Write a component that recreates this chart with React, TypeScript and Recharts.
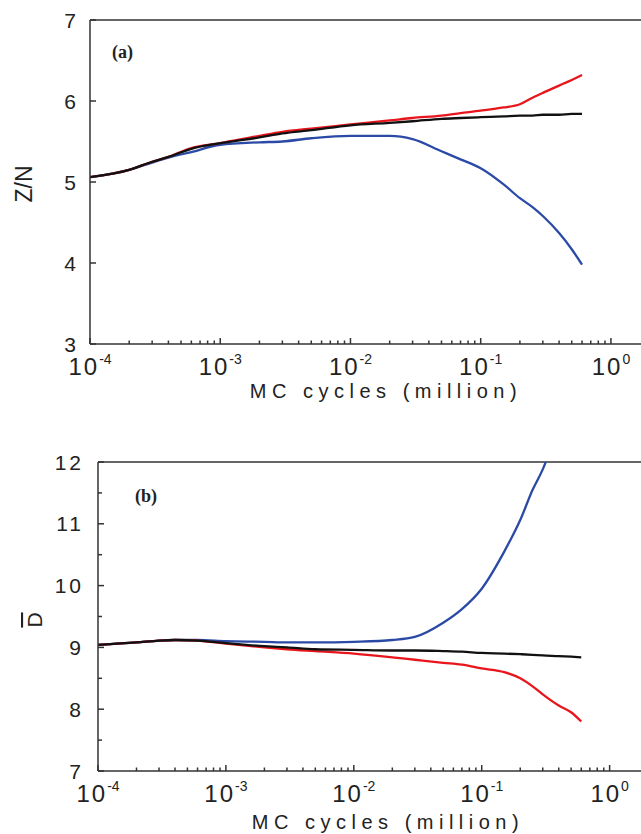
import { LineChart, Line, XAxis, YAxis, ReferenceLine } from "recharts";

// MC cycles (million)
const cycles = [
  1e-4, 2e-4, 3e-4, 4e-4, 6e-4, 1e-3, 2e-3, 3e-3, 5e-3, 1e-2, 2e-2, 3e-2,
  5e-2, 7e-2, 0.1, 0.15, 0.2, 0.25, 0.3, 0.4, 0.5, 0.6,
];

// panel (a) Z/N
const zBlack = [
  5.06, 5.15, 5.25, 5.31, 5.41, 5.48, 5.55, 5.6, 5.64, 5.7, 5.73, 5.75, 5.78,
  5.79, 5.8, 5.81, 5.82, 5.82, 5.83, 5.83, 5.84, 5.84,
];
const zRed = [
  5.06, 5.15, 5.25, 5.31, 5.42, 5.48, 5.57, 5.62, 5.66, 5.71, 5.76, 5.79, 5.82,
  5.85, 5.88, 5.92, 5.96, 6.04, 6.1, 6.19, 6.26, 6.32,
];
const zBlue = [
  5.06, 5.15, 5.24, 5.3, 5.37, 5.46, 5.49, 5.5, 5.54, 5.57, 5.57, 5.53, 5.38,
  5.28, 5.17, 4.97, 4.8, 4.69, 4.58, 4.37, 4.17, 3.98,
];

// panel (b) D
const dBlack = [
  9.04, 9.08, 9.11, 9.12, 9.11, 9.07, 9.02, 9.0, 8.97, 8.96, 8.95, 8.95, 8.94,
  8.93, 8.91, 8.9, 8.89, 8.88, 8.87, 8.86, 8.85, 8.84,
];
const dRed = [
  9.04, 9.08, 9.11, 9.12, 9.11, 9.06, 9.0, 8.97, 8.94, 8.9, 8.84, 8.8, 8.75,
  8.72, 8.66, 8.6, 8.5, 8.37, 8.24, 8.06, 7.95, 7.8,
];
const dBlue = [
  9.04, 9.08, 9.11, 9.12, 9.12, 9.1, 9.09, 9.08, 9.08, 9.09, 9.12, 9.17, 9.4,
  9.62, 9.95, 10.55, 11.06, 11.55, 11.88, 12.6, null, null,
];

const majorX = [1e-4, 1e-3, 1e-2, 1e-1, 1];
const minorX = [-4, -3, -2, -1].flatMap((e) =>
  [2, 3, 4, 5, 6, 7, 8, 9].map((m) => m * Math.pow(10, e))
);
const xTicks = [...majorX, ...minorX].sort((a, b) => a - b);

const zTicks = [3, 4, 5, 6, 7];
const dTicks = [7, 7.5, 8, 8.5, 9, 9.5, 10, 10.5, 11, 11.5, 12];

const dataA = cycles.map((t, i) => ({ t, black: zBlack[i], red: zRed[i], blue: zBlue[i] }));
const dataB = cycles.map((t, i) => ({ t, black: dBlack[i], red: dRed[i], blue: dBlue[i] }));

const FONT = "'Liberation Sans', Arial, sans-serif";
const AXIS = "#333";
const RED = "#e8151c";
const BLUE = "#2a4aa6";
const BLACK = "#111";

const XTick = (props: any) => {
  const { x, y, payload } = props;
  const lg = Math.log10(payload.value);
  const exp = Math.round(lg);
  const major = Math.abs(lg - exp) < 1e-6;
  return (
    <g>
      <line x1={x} x2={x} y1={y} y2={y - (major ? 6 : 3.5)} stroke={AXIS} strokeWidth={1.5} />
      {major && (
        <text x={x} y={y + 31} textAnchor="middle" fontSize={24} fill="#222" fontFamily={FONT}>
          <tspan letterSpacing={2}>10</tspan>
          <tspan dy={-11} fontSize={14}>{exp}</tspan>
        </text>
      )}
    </g>
  );
};

const YTick = (props: any) => {
  const { x, y, payload, gap, spacing } = props;
  const major = Number.isInteger(payload.value);
  return (
    <g>
      <line x1={x} x2={x + (major ? 6 : 4)} y1={y} y2={y} stroke={AXIS} strokeWidth={1.5} />
      {major && (
        <text
          x={x - gap}
          y={y}
          dy="0.36em"
          textAnchor="end"
          fontSize={21}
          letterSpacing={spacing}
          fill="#222"
          fontFamily={FONT}
        >
          {payload.value}
        </text>
      )}
    </g>
  );
};

function Panel({ data, yTicks, yDomain, margin, height, spacing }: any) {
  return (
    <LineChart width={680} height={height} data={data} margin={margin}>
      <XAxis
        dataKey="t"
        type="number"
        scale="log"
        domain={[1e-4, Math.pow(10, 0.3)]}
        allowDataOverflow
        ticks={xTicks}
        interval={0}
        height={20}
        tickSize={0}
        tickMargin={0}
        tickLine={false}
        axisLine={{ stroke: AXIS, strokeWidth: 1.5 }}
        tick={<XTick />}
      />
      <YAxis
        type="number"
        domain={yDomain}
        allowDataOverflow
        ticks={yTicks}
        interval={0}
        width={40}
        tickSize={0}
        tickMargin={0}
        tickLine={false}
        axisLine={{ stroke: AXIS, strokeWidth: 1.5 }}
        tick={<YTick gap={14} spacing={spacing} />}
      />
      <ReferenceLine y={yDomain[1]} stroke={AXIS} strokeWidth={1.5} />
      <Line type="monotone" dataKey="blue" stroke={BLUE} strokeWidth={2.3} dot={false} isAnimationActive={false} />
      <Line type="monotone" dataKey="red" stroke={RED} strokeWidth={2.3} dot={false} isAnimationActive={false} />
      <Line type="monotone" dataKey="black" stroke={BLACK} strokeWidth={2.3} dot={false} isAnimationActive={false} />
    </LineChart>
  );
}

export default function App() {
  return (
    <div
      style={{
        position: "absolute",
        left: 0,
        top: 0,
        width: 641,
        height: 834,
        overflow: "hidden",
        background: "#fff",
      }}
    >
      <div style={{ position: "absolute", left: 0, top: 0 }}>
        <Panel
          data={dataA}
          yTicks={zTicks}
          yDomain={[3, 7]}
          height={400}
          margin={{ top: 20, right: 30, left: 50, bottom: 36 }}
          spacing={0}
        />
      </div>
      <div style={{ position: "absolute", left: 0, top: 420 }}>
        <Panel
          data={dataB}
          yTicks={dTicks}
          yDomain={[7, 12]}
          height={414}
          margin={{ top: 42, right: 32, left: 58, bottom: 43 }}
          spacing={3}
        />
      </div>
      <svg
        width={641}
        height={834}
        style={{ position: "absolute", left: 0, top: 0, pointerEvents: "none" }}
      >
        <text x={32} y={184} transform="rotate(-90 32 184)" textAnchor="middle" fontSize={23} fill="#222" fontFamily={FONT}>
          Z/N
        </text>
        <text
          x={42}
          y={620}
          transform="rotate(-90 42 620)"
          textAnchor="middle"
          fontSize={21}
          fill="#222"
          fontFamily={FONT}
          textDecoration="overline"
        >
          D
        </text>
        <text x={112} y={58} fontSize={18} fontWeight="bold" fontFamily="'Liberation Serif', serif" fill="#222">
          (a)
        </text>
        <text x={135} y={502} fontSize={18} fontWeight="bold" fontFamily="'Liberation Serif', serif" fill="#222">
          (b)
        </text>
        <text x={386} y={398} textAnchor="middle" fontSize={20} letterSpacing={5.5} fill="#222" fontFamily={FONT}>
          MC cycles (million)
        </text>
        <text x={388} y={829} textAnchor="middle" fontSize={20} letterSpacing={5.5} fill="#222" fontFamily={FONT}>
          MC cycles (million)
        </text>
      </svg>
    </div>
  );
}
